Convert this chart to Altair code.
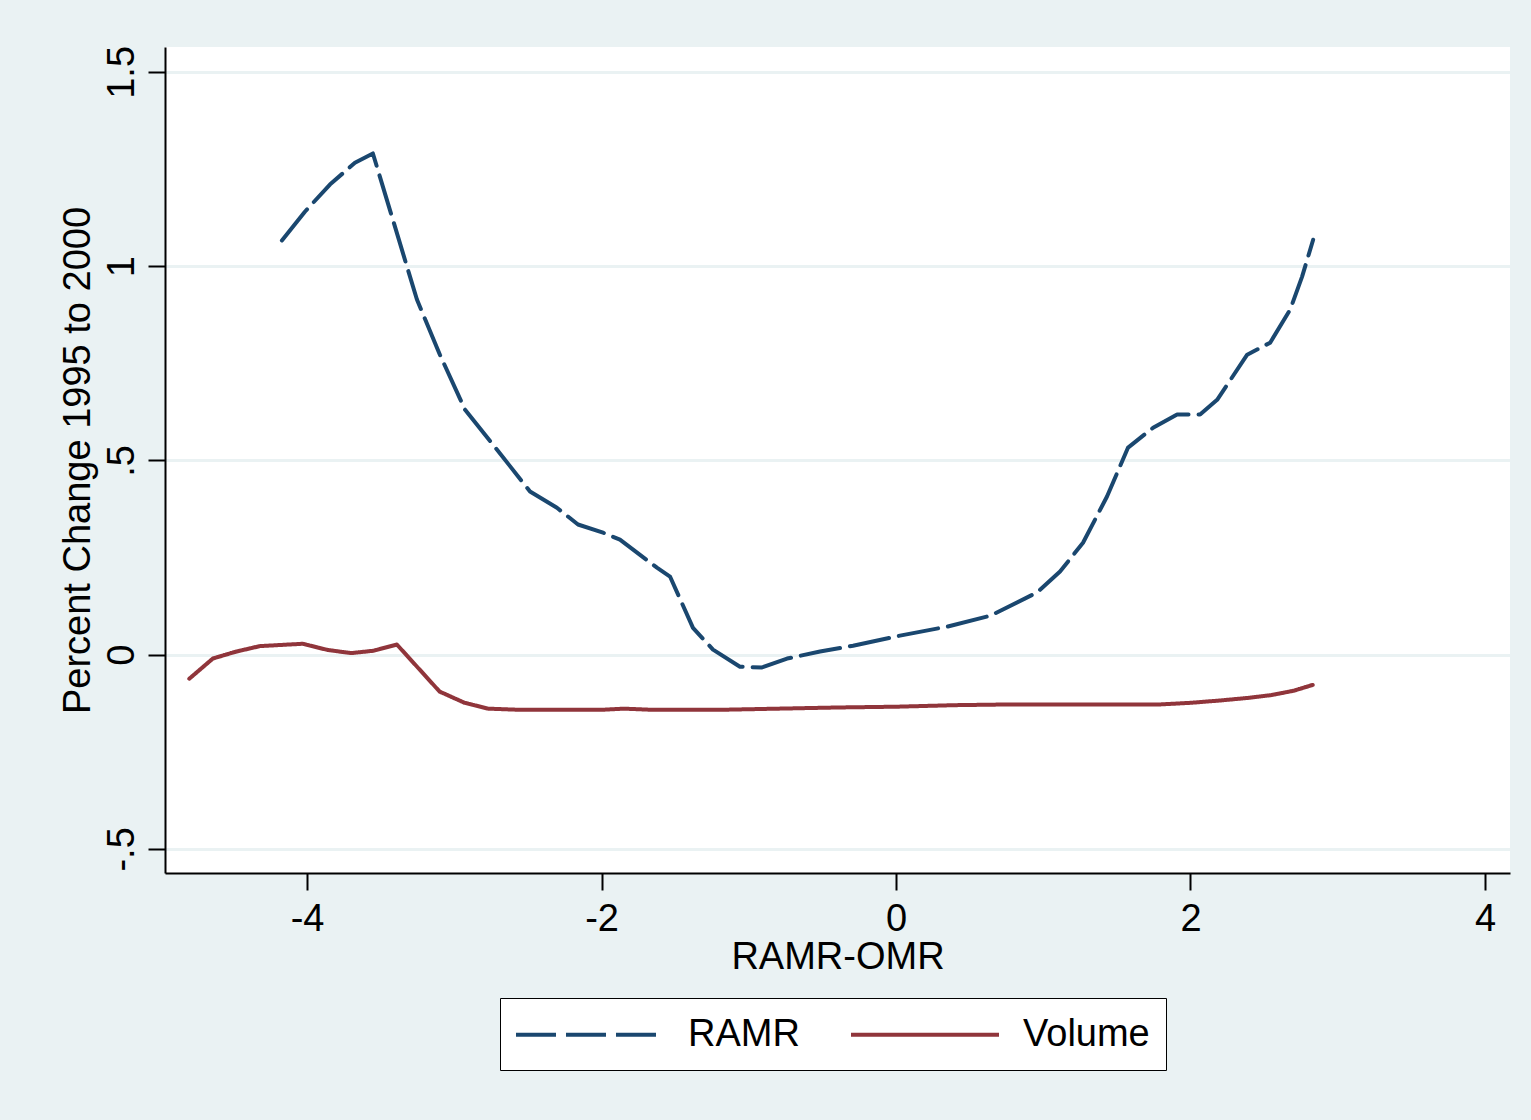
import altair as alt
import pandas as pd

# RAMR series (dashed)
ramr_x = [-4.171, -4.015, -3.845, -3.675, -3.553, -3.254, -3.098, -2.928, -2.711, -2.486,
          -2.303, -2.160, -1.990, -1.875, -1.624, -1.535, -1.379, -1.243, -1.060, -0.910,
          -0.740, -0.516, -0.292, 0.027, 0.346, 0.639, 0.958, 1.114, 1.270, 1.433,
          1.576, 1.746, 1.909, 2.065, 2.181, 2.385, 2.541, 2.677, 2.758, 2.833]
ramr_y = [1.066, 1.140, 1.210, 1.266, 1.290, 0.914, 0.772, 0.631, 0.528, 0.420,
          0.378, 0.335, 0.314, 0.296, 0.224, 0.201, 0.069, 0.013, -0.031, -0.033,
          -0.010, 0.008, 0.023, 0.049, 0.072, 0.100, 0.160, 0.214, 0.288, 0.407,
          0.533, 0.584, 0.618, 0.618, 0.656, 0.772, 0.803, 0.888, 0.973, 1.068]

# Volume series (solid)
vol_x = [-4.80, -4.64, -4.48, -4.32, -4.03, -3.86, -3.70, -3.55, -3.39, -3.10,
         -2.93, -2.77, -2.55, -2.00, -1.85, -1.65, -1.20, -0.80, -0.40, 0.00,
         0.40, 0.80, 1.20, 1.60, 1.80, 2.00, 2.20, 2.40, 2.55, 2.70, 2.83]
vol_y = [-0.062, -0.010, 0.008, 0.022, 0.028, 0.012, 0.004, 0.010, 0.026, -0.095,
         -0.124, -0.139, -0.142, -0.142, -0.139, -0.142, -0.142, -0.139, -0.136, -0.134,
         -0.130, -0.128, -0.128, -0.128, -0.128, -0.124, -0.118, -0.111, -0.104, -0.093, -0.078]

series_names = ["RAMR", "Volume"]
series_colors = ["#1a476f", "#90353b"]
x_ticks = [-4, -2, 0, 2, 4]
y_ticks = [-0.5, 0, 0.5, 1, 1.5]

df = pd.concat([
    pd.DataFrame({"x": ramr_x, "y": ramr_y, "series": "RAMR", "order": range(len(ramr_x))}),
    pd.DataFrame({"x": vol_x, "y": vol_y, "series": "Volume", "order": range(len(vol_x))}),
])

FONT = "Liberation Sans"

chart = alt.Chart(df).mark_line(strokeWidth=4, strokeCap="round", strokeJoin="round").encode(
    x=alt.X("x:Q",
            scale=alt.Scale(domain=[-4.965, 4.17], nice=False, zero=False),
            axis=alt.Axis(values=x_ticks, title="RAMR-OMR", grid=False,
                          labelPadding=10, titlePadding=0,
                          labelExpr="datum.value < 0 ? '-' + format(-datum.value, 'd') : format(datum.value, 'd')")),
    y=alt.Y("y:Q",
            scale=alt.Scale(domain=[-0.562, 1.564], nice=False, zero=False),
            axis=alt.Axis(values=y_ticks, title="Percent Change 1995 to 2000", grid=True,
                          labelAngle=270, labelAlign="center", labelBaseline="alphabetic",
                          labelPadding=15, titlePadding=6,
                          labelExpr="datum.value == 0.5 ? '.5' : datum.value == -0.5 ? '-.5' : format(datum.value, '~g')")),
    color=alt.Color("series:N",
                    scale=alt.Scale(domain=series_names, range=series_colors),
                    legend=alt.Legend(title=None)),
    strokeDash=alt.StrokeDash("series:N",
                              scale=alt.Scale(domain=series_names, range=[[40, 10], [1, 0]]),
                              legend=alt.Legend(title=None)),
    order="order:Q",
).properties(
    width=1345,
    height=826,
    autosize=alt.AutoSizeParams(type="none"),
    padding={"left": 165, "top": 47, "right": 21, "bottom": 247},
    background="#eaf2f3",
).configure_view(
    fill="white",
    stroke=None,
).configure_axis(
    labelFont=FONT,
    titleFont=FONT,
    labelFontSize=38,
    titleFontSize=38,
    labelColor="black",
    titleColor="black",
    titleFontWeight="normal",
    domainColor="black",
    domainWidth=2,
    tickColor="black",
    tickWidth=2,
    tickSize=17,
    gridColor="#eaf2f3",
    gridWidth=3,
    gridOpacity=1,
    labelFlush=False,
    labelOverlap=False,
).configure_legend(
    orient="none",
    legendX=335,
    legendY=951,
    direction="horizontal",
    fillColor="white",
    strokeColor="black",
    padding=16,
    symbolType="M-1.108,0H6.892",
    symbolSize=1369,
    symbolStrokeWidth=4,
    labelFont=FONT,
    labelFontSize=38,
    labelColor="black",
    labelOffset=131,
    columnPadding=43,
)

chart.save("out.html", embed_options={"renderer": "svg", "actions": False})
